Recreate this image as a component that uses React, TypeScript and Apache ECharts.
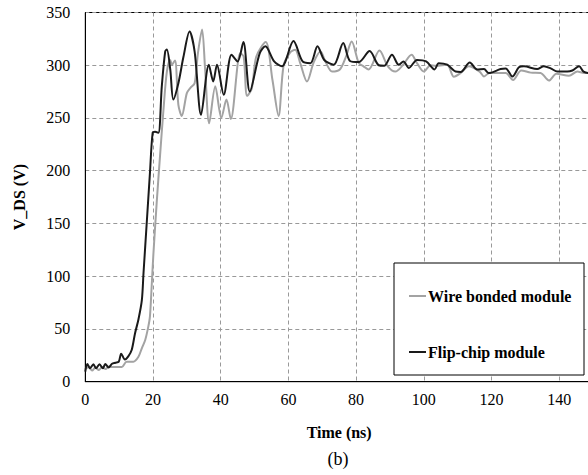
import React, { useEffect, useRef } from "react";
import * as echarts from "echarts";

const SERIF = "Times New Roman, Liberation Serif, DejaVu Serif, serif";

const xTicks = { min: 0, max: 150, interval: 20 };
const yTicks = { min: 0, max: 350, interval: 50 };

const seriesNames = ["Wire bonded module", "Flip-chip module"];

const wireTime = [
  0, 1, 2, 3, 4, 5, 6, 7, 8, 9,
  10, 10.8, 12.2, 14.2, 15.7, 16.7, 17.7, 18.6, 19.1, 19.6,
  20.1, 21.1, 22.1, 23.1, 24.1, 25.1, 25.6, 26.5, 27.5, 28.5,
  30, 31, 32.3, 33.3, 34.5, 35.4, 36.6, 38.4, 40.2, 41.7,
  43, 45.8, 46.8, 47.8, 49.2, 50.5, 53.3, 55.3, 57.1, 58.6,
  60.5, 62, 63.5, 65.5, 67.5, 69.5, 71, 72.9, 75.2, 77,
  78.7, 80.8, 82.2, 83.7, 86.9, 89.4, 91.6, 93.8, 96.4, 98,
  100, 102, 103.5, 106.9, 108.9, 110.9, 113.3, 116.5, 117.8, 119.5,
  120.7, 124.2, 126.4, 128.8, 131.6, 134.5, 137, 139.2, 142.9, 145.4,
  147.3, 148.8, 150,
];
const wireV = [
  12, 14, 10.5, 13.5, 11, 14, 12, 14.5, 14, 14,
  14, 14, 19, 19, 23.7, 31.7, 39.6, 52, 62, 90,
  120, 170, 215, 258, 294, 305, 300.5, 304.6, 262.5, 252,
  273.6, 278.4, 283, 312, 334, 296, 245, 280, 250, 267.5,
  249, 311.6, 308, 271, 278, 308, 322, 286, 252, 300,
  312, 314.7, 302, 284.6, 303, 313, 303, 294, 296, 308,
  322.5, 302, 299, 296, 314, 299, 294, 300, 310, 302,
  294, 300, 299.5, 300.5, 289, 292.6, 299, 294, 289.4, 293,
  292.6, 292.6, 286, 295, 293, 292.6, 285.5, 292, 290, 294,
  292.6, 292.6, 293,
];

const flipTime = [
  0, 0.6, 1.4, 2.4, 3.2, 4.2, 5.2, 5.9, 6.9, 7.9,
  8.9, 9.9, 10.6, 11.7, 12.7, 13.7, 14.7, 15.7, 16.7, 17.2,
  18.2, 19.1, 19.9, 20.6, 21.6, 22.6, 23.6, 24.1, 25.1, 26.0,
  27.5, 29, 30.8, 32.3, 34.2, 36.5, 37.8, 38.9, 40.9, 43.2,
  45, 46.7, 48.6, 51.5, 53.2, 55.8, 58.1, 61.5, 64.2, 66.5,
  68.6, 70.6, 73.4, 76.2, 78.2, 80.8, 84, 86.7, 88.3, 90.6,
  92.6, 94, 95.6, 98, 100.7, 103.2, 104.4, 106.9, 109.4, 110.9,
  113.6, 115.8, 117.8, 119.2, 122.7, 124.2, 126.2, 128.1, 129.6, 133.5,
  135.5, 137.5, 139.5, 142.4, 143.9, 145.9, 147.2, 148.8, 150,
];
const flipV = [
  9.5, 16.8, 12.7, 16.5, 12.7, 16.5, 12.7, 16.8, 13.5, 17,
  18, 19, 26.5, 21, 24, 30, 46, 59, 77, 103,
  153, 198, 236, 237, 236, 280, 313, 315, 296, 267.5,
  283, 308, 332, 313, 253, 300.5, 284.6, 300.5, 272, 310,
  303.6, 322, 275, 311, 318, 303.6, 299, 323, 303.6, 302,
  318, 305, 300.5, 321, 304, 303, 313.5, 300, 299.5, 310,
  300.5, 303.6, 297.5, 305, 303.6, 296, 302, 300.5, 294, 293.6,
  302.5, 296, 296.4, 292.6, 296.4, 297, 289.4, 298, 299, 296.4,
  299, 297, 294, 294, 295, 299, 294, 292.6, 293,
];

const pair = (t: number[], v: number[]) => t.map((x, i) => [x, v[i]]);

export default function App() {
  const ref = useRef<HTMLDivElement>(null);
  useEffect(() => {
    if (!ref.current) return;
    const chart = echarts.init(ref.current, null, { renderer: "svg" });
    const labelStyle = { color: "#000", fontFamily: SERIF, fontSize: 16 };
    const splitStyle = { show: true, lineStyle: { color: "#999", type: [4, 3] as any, width: 1 } };
    chart.setOption({
      animation: false,
      backgroundColor: "#fff",
      textStyle: { fontFamily: SERIF },
      grid: {
        left: 85.3,
        right: -5,
        top: 12.5,
        bottom: 93.3,
        show: true,
        borderColor: "#000",
        borderWidth: 1,
        backgroundColor: "transparent",
        outerBoundsMode: "none",
      },
      xAxis: {
        type: "value",
        min: xTicks.min,
        max: xTicks.max,
        interval: xTicks.interval,
        axisLine: { show: true, lineStyle: { color: "#000", width: 1 } },
        axisTick: { show: false },
        axisLabel: { ...labelStyle, margin: 10, showMaxLabel: false },
        splitLine: splitStyle,
        name: "Time (ns)",
        nameLocation: "middle",
        nameGap: 43,
        nameTextStyle: { fontFamily: SERIF, fontSize: 16, fontWeight: "bold", color: "#000" },
      },
      yAxis: {
        type: "value",
        min: yTicks.min,
        max: yTicks.max,
        interval: yTicks.interval,
        axisLine: { show: true, lineStyle: { color: "#000", width: 1 } },
        axisTick: { show: false },
        axisLabel: { ...labelStyle, margin: 15 },
        splitLine: splitStyle,
        name: "V_DS (V)",
        nameLocation: "middle",
        nameGap: 58,
        nameTextStyle: { fontFamily: SERIF, fontSize: 16, fontWeight: "bold", color: "#000" },
      },
      legend: {
        data: seriesNames,
        orient: "vertical",
        left: 404,
        top: 283,
        itemGap: 40,
        itemWidth: 17,
        itemHeight: 2,
        icon: "rect",
        z: 10,
        textStyle: { fontFamily: SERIF, fontSize: 16, fontWeight: "bold", color: "#000", padding: [0, 0, 0, -3] },
      },
      graphic: [
        {
          type: "rect",
          z: 5,
          shape: { x: 394, y: 263, width: 190, height: 112 },
          style: { fill: "#fff", stroke: "#000", lineWidth: 1 },
        },
        {
          type: "text",
          x: 338,
          y: 459,
          z: 5,
          style: {
            text: "(b)",
            fontFamily: SERIF,
            fontSize: 18,
            fill: "#000",
            textAlign: "center",
            textVerticalAlign: "middle",
          },
        },
      ],
      series: [
        {
          name: seriesNames[0],
          type: "line",
          data: pair(wireTime, wireV),
          showSymbol: false,
          smooth: 0.3,
          color: "#a3a3a3",
          lineStyle: { color: "#a3a3a3", width: 2 },
          z: 2,
        },
        {
          name: seriesNames[1],
          type: "line",
          data: pair(flipTime, flipV),
          showSymbol: false,
          smooth: 0.3,
          color: "#1a1a1a",
          lineStyle: { color: "#1a1a1a", width: 2 },
          z: 3,
        },
      ],
    });
    return () => chart.dispose();
  }, []);
  return (
    <div
      ref={ref}
      style={{ position: "absolute", left: 0, top: 0, width: 588, height: 475 }}
    />
  );
}
